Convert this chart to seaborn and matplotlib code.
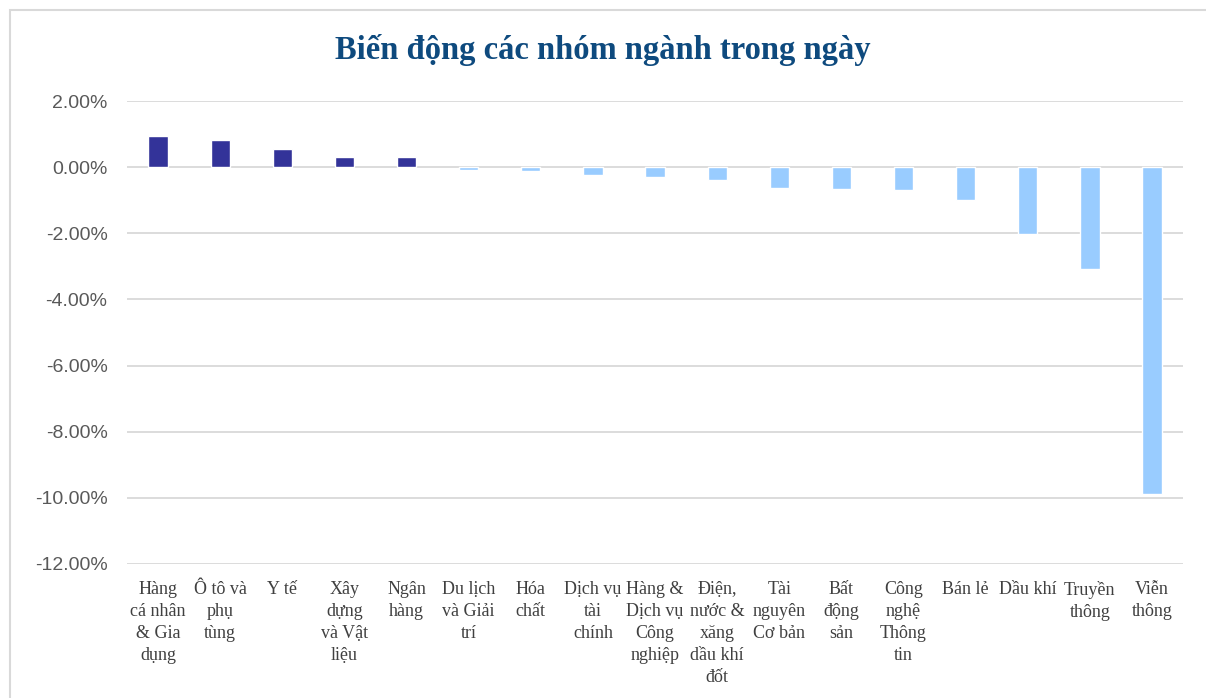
import matplotlib
matplotlib.use("Agg")
import matplotlib.pyplot as plt
import matplotlib.patches as mpatches
import pandas as pd
import seaborn as sns

# sector names (wrapped like in the original chart)
sectors = [
    "Hàng\ncá nhân\n& Gia\ndụng", "Ô tô và\nphụ\ntùng", "Y tế",
    "Xây\ndựng\nvà Vật\nliệu", "Ngân\nhàng", "Du lịch\nvà Giải\ntrí",
    "Hóa\nchất", "Dịch vụ\ntài\nchính", "Hàng &\nDịch vụ\nCông\nnghiệp",
    "Điện,\nnước &\nxăng\ndầu khí\nđốt", "Tài\nnguyên\nCơ bản", "Bất\nđộng\nsản",
    "Công\nnghệ\nThông\ntin", "Bán lẻ", "Dầu khí", "Truyền\nthông", "Viễn\nthông",
]
# daily change in percent
changes = [0.94, 0.81, 0.54, 0.32, 0.30, -0.10, -0.13, -0.24, -0.30,
           -0.39, -0.64, -0.67, -0.70, -1.00, -2.03, -3.09, -9.88]
yticks = [2, 0, -2, -4, -6, -8, -10, -12]

df = pd.DataFrame({"sector": sectors, "change": changes})
colors = ["#333399" if v >= 0 else "#99CCFF" for v in changes]

sns.set_style("white")
fig = plt.figure(figsize=(12.06, 6.98), dpi=100)
ax = fig.add_axes([0.1053, 0.192, 0.8757, 0.6633])

sns.barplot(data=df, x="sector", y="change", hue="sector", palette=colors,
            legend=False, width=0.31, saturation=1, ax=ax)

ax.set_ylim(-12, 2)
ax.set_yticks(yticks)
ax.set_yticklabels([f"{t:.2f}%" for t in yticks], fontsize=14,
                   color="#595959", family="Liberation Sans")
ax.yaxis.grid(True, color="#D9D9D9", linewidth=1.3)
ax.set_axisbelow(True)
ax.set_xlim(-0.5, len(sectors) - 0.5)
ax.tick_params(axis="both", length=0)
ax.tick_params(axis="y", pad=14)
ax.tick_params(axis="x", pad=12)
for lab in ax.get_xticklabels():
    lab.set_family("Liberation Serif")
    lab.set_fontsize(13)
    lab.set_color("#404040")
    lab.set_linespacing(1.4)
    lab.set_verticalalignment("top")
ax.set_xlabel("")
ax.set_ylabel("")
for s in ax.spines.values():
    s.set_visible(False)

fig.text(0.5, 0.928, "Biến động các nhóm ngành trong ngày", ha="center",
         va="center", fontsize=23.5, fontweight="bold", color="#0E4A7E",
         family="Liberation Serif")

# light frame around the chart
fig.patches.append(mpatches.Rectangle((10 / 1206, -0.01), 1.02, 1 - 10 / 698 + 0.01,
                                      transform=fig.transFigure, fill=False,
                                      edgecolor="#D9D9D9", linewidth=1.5))

fig.savefig("out.png", dpi=100)
